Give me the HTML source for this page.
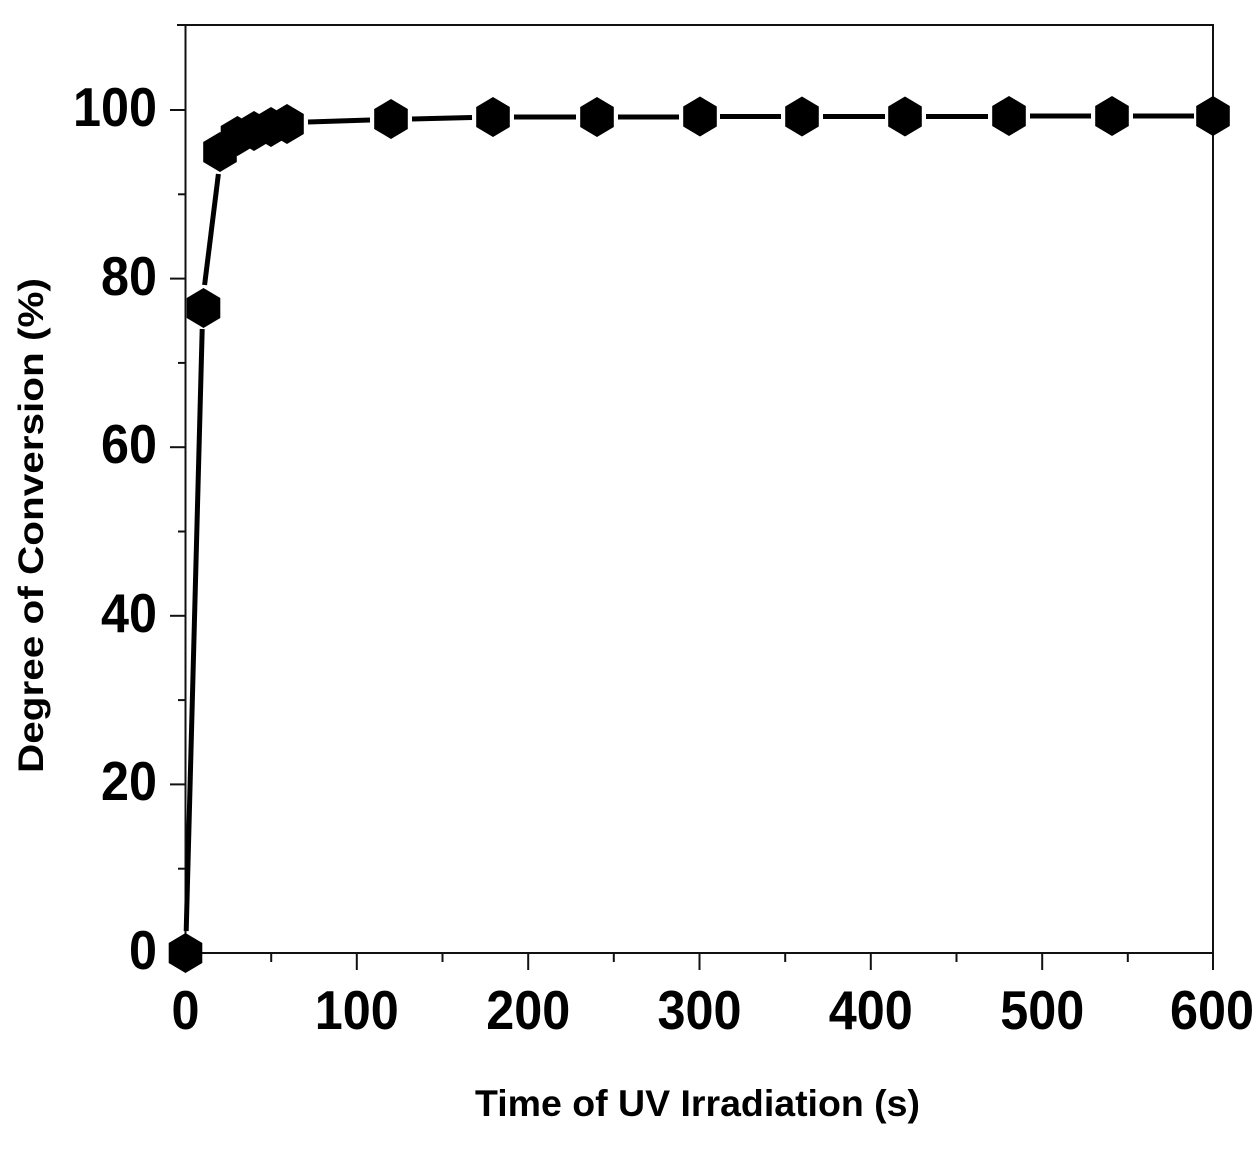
<!DOCTYPE html>
<html>
<head>
<meta charset="utf-8">
<style>
  html, body { margin:0; padding:0; background:#fff; }
  svg { display:block; }
  text { font-family: "Liberation Sans", Arial, sans-serif; font-weight:bold; fill:#000; }
</style>
</head>
<body>
<svg width="1260" height="1152" viewBox="0 0 1260 1152" xmlns="http://www.w3.org/2000/svg">
  <rect x="0" y="0" width="1260" height="1152" fill="#fff"/>

  <!-- axes frame -->
  <g stroke="#111" stroke-width="2" fill="none">
    <line x1="177" y1="25" x2="1214" y2="25"/>
    <line x1="185.5" y1="25" x2="185.5" y2="953"/>
    <line x1="1213" y1="25" x2="1213" y2="953"/>
    <line x1="185.5" y1="953" x2="1213" y2="953"/>
  </g>

  <!-- y ticks -->
  <g stroke="#111" stroke-width="2">
    <line x1="170" y1="953" x2="185" y2="953"/>
    <line x1="178" y1="868.7" x2="185" y2="868.7"/>
    <line x1="170" y1="784.4" x2="185" y2="784.4"/>
    <line x1="178" y1="700.1" x2="185" y2="700.1"/>
    <line x1="170" y1="615.8" x2="185" y2="615.8"/>
    <line x1="178" y1="531.5" x2="185" y2="531.5"/>
    <line x1="170" y1="447.2" x2="185" y2="447.2"/>
    <line x1="178" y1="362.9" x2="185" y2="362.9"/>
    <line x1="170" y1="278.6" x2="185" y2="278.6"/>
    <line x1="178" y1="194.3" x2="185" y2="194.3"/>
    <line x1="170" y1="110" x2="185" y2="110"/>
  </g>

  <!-- x ticks -->
  <g stroke="#111" stroke-width="2">
    <line x1="185.5" y1="953" x2="185.5" y2="970"/>
    <line x1="271.2" y1="953" x2="271.2" y2="962"/>
    <line x1="356.8" y1="953" x2="356.8" y2="970"/>
    <line x1="442.5" y1="953" x2="442.5" y2="962"/>
    <line x1="528.2" y1="953" x2="528.2" y2="970"/>
    <line x1="613.8" y1="953" x2="613.8" y2="962"/>
    <line x1="699.5" y1="953" x2="699.5" y2="970"/>
    <line x1="785.2" y1="953" x2="785.2" y2="962"/>
    <line x1="870.8" y1="953" x2="870.8" y2="970"/>
    <line x1="956.5" y1="953" x2="956.5" y2="962"/>
    <line x1="1042.2" y1="953" x2="1042.2" y2="970"/>
    <line x1="1127.8" y1="953" x2="1127.8" y2="962"/>
    <line x1="1213" y1="953" x2="1213" y2="970"/>
  </g>

  <!-- y tick labels -->
  <g font-size="55" text-anchor="end">
    <text x="157" y="969" textLength="28" lengthAdjust="spacingAndGlyphs">0</text>
    <text x="157" y="800" textLength="56" lengthAdjust="spacingAndGlyphs">20</text>
    <text x="157" y="632" textLength="56" lengthAdjust="spacingAndGlyphs">40</text>
    <text x="157" y="463" textLength="56" lengthAdjust="spacingAndGlyphs">60</text>
    <text x="157" y="295" textLength="56" lengthAdjust="spacingAndGlyphs">80</text>
    <text x="157" y="126" textLength="84" lengthAdjust="spacingAndGlyphs">100</text>
  </g>

  <!-- x tick labels -->
  <g font-size="55" text-anchor="middle">
    <text x="185.5" y="1029" textLength="28" lengthAdjust="spacingAndGlyphs">0</text>
    <text x="356.8" y="1029" textLength="84" lengthAdjust="spacingAndGlyphs">100</text>
    <text x="528.2" y="1029" textLength="84" lengthAdjust="spacingAndGlyphs">200</text>
    <text x="699.5" y="1029" textLength="84" lengthAdjust="spacingAndGlyphs">300</text>
    <text x="870.8" y="1029" textLength="84" lengthAdjust="spacingAndGlyphs">400</text>
    <text x="1042.2" y="1029" textLength="84" lengthAdjust="spacingAndGlyphs">500</text>
    <text x="1212" y="1029" textLength="84" lengthAdjust="spacingAndGlyphs">600</text>
  </g>

  <!-- axis titles -->
  <text x="475" y="1116" font-size="37" textLength="445" lengthAdjust="spacingAndGlyphs">Time of UV Irradiation (s)</text>
  <text transform="translate(43,773) rotate(-90)" x="0" y="0" font-size="35" textLength="495" lengthAdjust="spacingAndGlyphs">Degree of Conversion (%)</text>

  <!-- data line segments (trimmed near markers) -->
  <g stroke="#000" stroke-width="5" stroke-linecap="butt" fill="none">
    <line x1="186.2" y1="931" x2="202.2" y2="329"/>
    <line x1="204.6" y1="285" x2="218.4" y2="174"/>
    <line x1="222" y1="146" x2="300" y2="122"/>
    <line x1="308" y1="122" x2="370" y2="120"/>
    <line x1="412" y1="119" x2="472" y2="117.5"/>
    <line x1="514" y1="117" x2="576" y2="117"/>
    <line x1="618" y1="117" x2="679" y2="117"/>
    <line x1="720" y1="116.5" x2="781" y2="116.5"/>
    <line x1="823" y1="116.5" x2="885" y2="116.5"/>
    <line x1="926" y1="116.5" x2="988" y2="116.5"/>
    <line x1="1030" y1="116" x2="1091" y2="116"/>
    <line x1="1133" y1="116" x2="1194" y2="116"/>
  </g>

  <!-- markers -->
  <defs>
    <polygon id="hx" points="0,-20 16.8,-10 16.8,10 0,20 -16.8,10 -16.8,-10" fill="#000"/>
  </defs>
  <g>
    <use href="#hx" x="185.5" y="953"/>
    <use href="#hx" x="203.5" y="308"/>
    <use href="#hx" x="220" y="152"/>
    <use href="#hx" x="237.5" y="136"/>
    <use href="#hx" x="254" y="131"/>
    <use href="#hx" x="271" y="127"/>
    <use href="#hx" x="287" y="124"/>
    <use href="#hx" x="391" y="119"/>
    <use href="#hx" x="493" y="117"/>
    <use href="#hx" x="597" y="117"/>
    <use href="#hx" x="700" y="116.5"/>
    <use href="#hx" x="802" y="116.5"/>
    <use href="#hx" x="905" y="116.5"/>
    <use href="#hx" x="1009" y="116"/>
    <use href="#hx" x="1112" y="116"/>
    <use href="#hx" x="1213" y="116"/>
  </g>
</svg>
</body>
</html>
